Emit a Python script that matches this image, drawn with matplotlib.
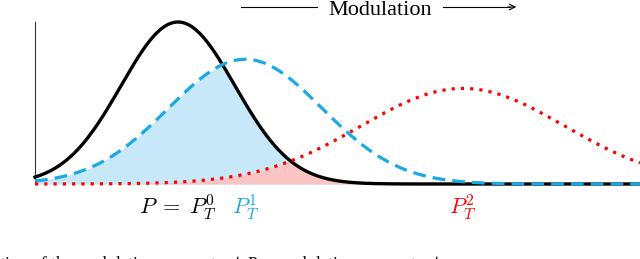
import numpy as np
import matplotlib
matplotlib.use("Agg")
import matplotlib.pyplot as plt
import matplotlib.transforms as mtransforms

plt.rcParams['mathtext.fontset'] = 'cm'

# three distributions (mean, spread, peak height)
names = [r'$P\;=\;P_T^0$', r'$P_T^1$', r'$P_T^2$']
means = [0.0, 1.18, 5.0]
sigmas = [1.0, 1.35, 1.79]
peaks = [1.0, 0.77, 0.59]
colors = ['black', '#1aa9e6', '#ff0000']
x_range = [-2.51, 8.11]

caption = r'tion of the modulation parameter $t$. Per modulation parameter $t$,'

x = np.linspace(x_range[0], x_range[1], 800)
curves = [a * np.exp(-0.5 * ((x - m) / s) ** 2) for m, s, a in zip(means, sigmas, peaks)]
p0, p1, p2 = curves

fig = plt.figure(figsize=(6.4, 2.59), dpi=100)
ax = fig.add_axes([35/640, 75/259, 605/640, 162/259])

# shaded overlaps
ax.fill_between(x, 0, np.minimum(p0, p1), color='#c7e8f9', lw=0, zorder=1)
ax.fill_between(x, 0, np.minimum(p0, p2), color='#fbc5c5', lw=0, zorder=2)

ax.plot(x, p0, color=colors[0], lw=2.4, zorder=3, clip_on=False)
ax.plot(x, p1, color=colors[1], lw=2.3, ls=(0, (4, 2.2)), dash_capstyle='butt', zorder=4, clip_on=False)
ax.plot(x, p2, color=colors[2], lw=2.3, ls=(0, (1, 1.9)), dash_capstyle='butt', zorder=5, clip_on=False)

ax.set_xlim(*x_range)
ax.set_ylim(0, 1)
for s in ['top', 'right', 'bottom']:
    ax.spines[s].set_visible(False)
ax.spines['left'].set_color('#333333')
ax.spines['left'].set_linewidth(0.8)
ax.set_xticks([]); ax.set_yticks([])

# labels under each curve
trans = mtransforms.blended_transform_factory(ax.transData, fig.transFigure)
for name, m, c in zip(names, means, colors):
    ax.text(m, 1 - 214/259, name, transform=trans, ha='center', va='baseline',
            fontsize=16, color=c)

# modulation arrow on top
fig.text(380/640, 1 - 15/259, 'Modulation', ha='center', va='baseline',
         fontsize=16, family='Liberation Serif')
y_arr = 1 - 7/259
fig.add_artist(plt.Line2D([241/640, 317/640], [y_arr, y_arr], color='black', lw=0.8))
fig.add_artist(plt.Line2D([443/640, 510/640], [y_arr, y_arr], color='black', lw=0.8))
ax.annotate('', xy=(519/640, y_arr), xytext=(505/640, y_arr), xycoords='figure fraction',
            arrowprops=dict(arrowstyle='->', color='black', lw=0.8, mutation_scale=10))

# cut-off caption line at the bottom (only the tops show, as in the source)
fig.text(0.0, 1 - 268/259, caption, ha='left', va='baseline', fontsize=12.5,
         family='Liberation Serif')

fig.savefig('out.png', dpi=100)
